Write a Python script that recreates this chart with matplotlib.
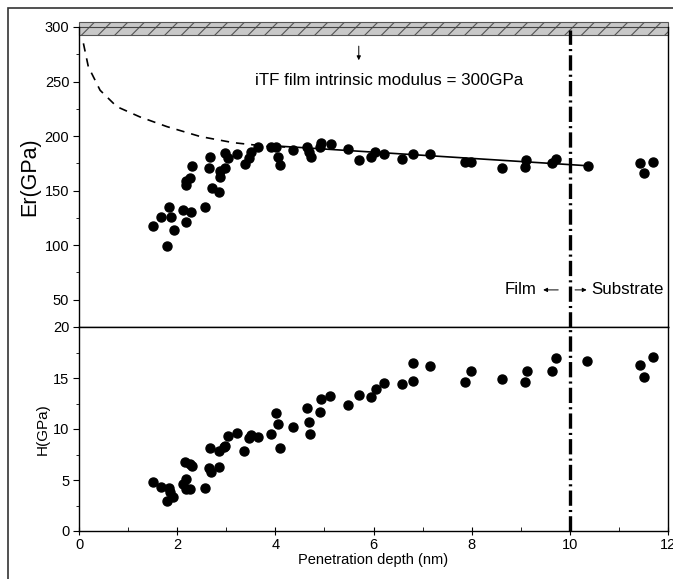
import matplotlib.pyplot as plt
from matplotlib.patches import Rectangle
import numpy as np

plt.rcParams['font.family'] = ['Liberation Sans', 'DejaVu Sans']
plt.rcParams['lines.scale_dashes'] = False
plt.rcParams['hatch.linewidth'] = 0.8

# Er(GPa) data
er_depth = [1.51, 1.68, 1.80, 1.83, 1.87, 1.94, 2.11, 2.17, 2.17, 2.18, 2.26, 2.28, 2.30,
            2.57, 2.65, 2.67, 2.70, 2.86, 2.87, 2.87, 2.98, 2.98, 3.03, 3.21, 3.38, 3.47,
            3.50, 3.65, 3.91, 4.01, 4.05, 4.10, 4.37, 4.65, 4.69, 4.72, 4.91, 4.94, 5.13,
            5.49, 5.71, 5.95, 6.04, 6.21, 6.59, 6.81, 7.15, 7.86, 7.99, 8.62, 9.09, 9.11,
            9.63, 9.72, 10.36, 11.42, 11.52, 11.70]
er_vals = [117.8, 125.4, 98.8, 135.4, 125.4, 114.1, 132.1, 121.1, 158.4, 155.0, 162.0, 130.6, 173.0,
           134.9, 170.6, 180.7, 152.3, 148.3, 162.9, 168.4, 171.2, 184.9, 180.3, 183.7, 174.3, 179.8,
           185.8, 190.4, 190.4, 190.4, 181.2, 173.3, 187.3, 190.4, 185.8, 181.2, 190.4, 194.0, 192.9,
           188.3, 177.9, 181.2, 185.8, 183.4, 179.4, 183.7, 183.4, 176.7, 176.4, 171.2, 172.1, 177.9,
           175.5, 179.4, 173.0, 175.2, 166.0, 176.1]

# H(GPa) data
h_depth = [1.51, 1.68, 1.83, 1.85, 1.80, 1.92, 2.11, 2.17, 2.17, 2.16, 2.26, 2.30, 2.26,
           2.57, 2.64, 2.69, 2.66, 2.86, 2.86, 2.96, 2.98, 3.03, 3.21, 3.37, 3.47, 3.50,
           3.65, 3.91, 4.02, 4.05, 4.10, 4.35, 4.64, 4.69, 4.71, 4.90, 4.94, 5.11,
           5.49, 5.71, 5.95, 6.05, 6.21, 6.59, 6.81, 6.81, 7.15, 7.86, 7.99, 8.62, 9.09,
           9.12, 9.64, 9.72, 10.35, 11.42, 11.52, 11.70]
h_vals = [4.80, 4.35, 4.18, 3.86, 2.94, 3.33, 4.61, 5.10, 4.08, 6.80, 6.54, 6.37, 4.15,
          4.22, 6.21, 5.75, 8.10, 6.31, 7.88, 8.20, 8.33, 9.31, 9.57, 7.81, 9.08, 9.37,
          9.21, 9.51, 11.60, 10.52, 8.14, 10.23, 12.03, 10.65, 9.54, 11.63, 12.94, 13.24,
          12.39, 13.30, 13.10, 13.95, 14.54, 14.38, 14.67, 16.50, 16.21, 14.60, 15.72, 14.93, 14.60,
          15.69, 15.72, 16.93, 16.64, 16.27, 15.06, 17.09]

# model curves
dash_x = [0.09, 0.19, 0.43, 0.77, 1.24, 1.79, 2.47, 3.14, 3.83, 4.2]
dash_y = [285.0, 263.6, 242.0, 227.0, 217.6, 208.7, 199.6, 194.0, 190.6, 190.0]
fit_x = [4.0, 10.4]
fit_y = [191.0, 172.7]

fig = plt.figure(figsize=(6.73, 5.79), dpi=100)
ax1 = fig.add_axes([79 / 673, 1 - 327 / 579, 589 / 673, 300 / 579])
ax2 = fig.add_axes([79 / 673, 1 - 531 / 579, 589 / 673, 204 / 579])

# outer frame (cropped on right and bottom)
fig.patches.append(Rectangle((8 / 673, -0.2), 1.2, 1 - 8 / 579 + 0.2, transform=fig.transFigure,
                             fill=False, edgecolor='#333333', linewidth=1.2))

for ax in (ax1, ax2):
    ax.set_xlim(0, 12)
    for s in ax.spines.values():
        s.set_linewidth(1.0)
    ax.tick_params(axis='y', which='major', direction='out', length=4, labelsize=10.5, pad=3)
    ax.tick_params(axis='y', which='minor', direction='out', length=2.5)

# top panel
ax1.set_ylim(25, 300)
ax1.spines['top'].set_visible(False)
ax1.set_yticks([50, 100, 150, 200, 250, 300])
ax1.set_yticks([75, 125, 175, 225, 275], minor=True)
ax1.set_xticks([])
ax1.plot(er_depth, er_vals, 'o', color='black', ms=6.5, mec='black')
ax1.plot(fit_x, fit_y, '-', color='black', lw=1.2)
ax1.plot(dash_x, dash_y, color='black', lw=1.2, dashes=(6, 5))
ax1.add_patch(Rectangle((0, 293), 12, 12, facecolor='#c8c8c8', edgecolor='#555555',
                        hatch='//', linewidth=0.8, clip_on=False))
ax1.plot([0, 12], [300, 300], color='#444444', lw=0.8, clip_on=False)
ax1.set_ylabel('Er(GPa)', fontsize=15.5)
ax1.yaxis.set_label_coords(-0.066, 0.5)
ax1.axvline(10, ymin=0, ymax=(300 - 25) / 275 - 0.01, color='black', lw=2.4,
            dashes=(11, 3, 1.5, 3))
ax1.annotate('', xy=(5.70, 267), xytext=(5.70, 285),
             arrowprops=dict(arrowstyle='-|>', color='black', lw=0.7, mutation_scale=6))
ax1.text(3.59, 251, 'iTF film intrinsic modulus = 300GPa', fontsize=12.2, va='center', ha='left')
ax1.annotate('', xy=(9.40, 59), xytext=(9.82, 59),
             arrowprops=dict(arrowstyle='-|>', color='black', lw=0.7, mutation_scale=6))
ax1.annotate('', xy=(10.40, 59), xytext=(10.05, 59),
             arrowprops=dict(arrowstyle='-|>', color='black', lw=0.7, mutation_scale=6))
ax1.text(9.33, 59, 'Film', fontsize=12.2, va='center', ha='right')
ax1.text(10.43, 59, 'Substrate', fontsize=12.2, va='center', ha='left')

# bottom panel
ax2.set_ylim(0, 20)
ax2.set_yticks([0, 5, 10, 15, 20])
ax2.set_yticks([2.5, 7.5, 12.5, 17.5], minor=True)
ax2.set_xticks([0, 2, 4, 6, 8, 10, 12])
ax2.set_xticks([1, 3, 5, 7, 9, 11], minor=True)
ax2.tick_params(axis='x', which='major', direction='inout', length=6, labelsize=10.5, pad=2)
ax2.tick_params(axis='x', which='minor', direction='in', length=3)
ax2.plot(h_depth, h_vals, 'o', color='black', ms=6.5, mec='black')
ax2.axvline(10, color='black', lw=2.4, dashes=(11, 3, 1.5, 3))
ax2.set_ylabel('H(GPa)', fontsize=11)
ax2.yaxis.set_label_coords(-0.049, 0.5)
ax2.set_xlabel('Penetration depth (nm)', fontsize=10.5, labelpad=1)

fig.savefig('out.png', dpi=100)
